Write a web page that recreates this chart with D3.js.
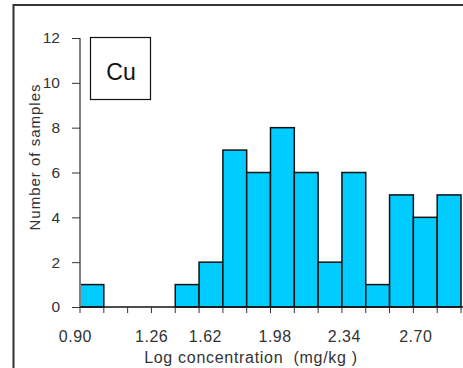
<!DOCTYPE html>
<html>
<head>
<meta charset="utf-8">
<script src="https://cdn.jsdelivr.net/npm/d3@7"></script>
<style>
  body { margin: 0; background: #fff; }
  text { font-family: "Liberation Sans", Arial, sans-serif; fill: #333; }
</style>
</head>
<body>
<div id="chart"></div>
<script>
// Histogram of Cu (log concentration), bins of 0.12
var binStart = 0.90, binWidth = 0.12;
var counts = [1, 0, 0, 0, 1, 2, 7, 6, 8, 6, 2, 6, 1, 5, 4, 5];

// x tick labels and where they sit along the value axis
var xLabels = ["0.90", "1.26", "1.62", "1.98", "2.34", "2.70"];
var xLabelAt = [0.877, 1.261, 1.532, 1.883, 2.232, 2.592];

var yTicks = [0, 2, 4, 6, 8, 10, 12];

var width = 463, height = 368;
var svg = d3.select("#chart").append("svg")
    .attr("width", width)
    .attr("height", height);

// outer frame (runs off the right and bottom edges)
svg.append("rect")
    .attr("x", 13.5).attr("y", 5)
    .attr("width", 480).attr("height", 400)
    .attr("fill", "none")
    .attr("stroke", "#333")
    .attr("stroke-width", 2);

var x = d3.scaleLinear()
    .domain([binStart, binStart + counts.length * binWidth])
    .range([80, 461]);

var y = d3.scaleLinear()
    .domain([0, 12])
    .range([307, 38]);

var bins = counts.map(function(c, i) {
    return { x0: binStart + i * binWidth, x1: binStart + (i + 1) * binWidth, n: c };
});

// bars
svg.append("g")
    .selectAll("rect")
    .data(bins.filter(function(d) { return d.n > 0; }))
    .enter().append("rect")
    .attr("x", function(d) { return x(d.x0); })
    .attr("y", function(d) { return y(d.n); })
    .attr("width", function(d) { return x(d.x1) - x(d.x0); })
    .attr("height", function(d) { return y(0) - y(d.n); })
    .attr("fill", "#00ccff")
    .attr("stroke", "#111")
    .attr("stroke-width", 1.5);

// y axis
svg.append("line")
    .attr("x1", 80).attr("x2", 80)
    .attr("y1", y(12)).attr("y2", y(0))
    .attr("stroke", "#808080")
    .attr("stroke-width", 2);

var yAxis = d3.axisLeft(y).tickValues(yTicks).tickSize(8).tickPadding(12);
var gy = svg.append("g").attr("transform", "translate(80,0)").call(yAxis);
gy.select(".domain").remove();
gy.selectAll(".tick line").attr("stroke", "#333");
gy.selectAll(".tick text")
    .style("font-family", "'Liberation Sans', Arial, sans-serif")
    .style("font-size", "15.5px")
    .attr("fill", "#333");

// x axis: line + ticks at every bin edge
var edges = d3.range(counts.length + 1).map(function(i) { return binStart + i * binWidth; });
svg.append("line")
    .attr("x1", 80).attr("x2", 463)
    .attr("y1", y(0)).attr("y2", y(0))
    .attr("stroke", "#111")
    .attr("stroke-width", 1.5);

svg.append("g")
    .selectAll("line")
    .data(edges)
    .enter().append("line")
    .attr("x1", function(d) { return x(d); })
    .attr("x2", function(d) { return x(d); })
    .attr("y1", y(0))
    .attr("y2", y(0) + 6)
    .attr("stroke", "#333")
    .attr("stroke-width", 1);

svg.append("g")
    .selectAll("text")
    .data(xLabels)
    .enter().append("text")
    .attr("x", function(d, i) { return x(xLabelAt[i]); })
    .attr("y", 342)
    .attr("text-anchor", "middle")
    .style("font-size", "16px")
    .style("letter-spacing", "0.5px")
    .text(function(d) { return d; });

// axis titles
svg.append("text")
    .attr("x", 251)
    .attr("y", 363)
    .attr("text-anchor", "middle")
    .style("font-size", "16px")
    .style("letter-spacing", "0.7px")
    .style("white-space", "pre")
    .text("Log concentration  (mg/kg )");

svg.append("text")
    .attr("transform", "translate(40,157) rotate(-90)")
    .attr("text-anchor", "middle")
    .style("font-size", "15px")
    .style("letter-spacing", "1px")
    .text("Number of samples");

// element label box
svg.append("rect")
    .attr("x", 90.5).attr("y", 37.5)
    .attr("width", 60).attr("height", 62)
    .attr("fill", "#fff")
    .attr("stroke", "#111")
    .attr("stroke-width", 1.2);

svg.append("text")
    .attr("x", 121)
    .attr("y", 80)
    .attr("text-anchor", "middle")
    .style("font-size", "23px")
    .style("fill", "#111")
    .text("Cu");
</script>
</body>
</html>
